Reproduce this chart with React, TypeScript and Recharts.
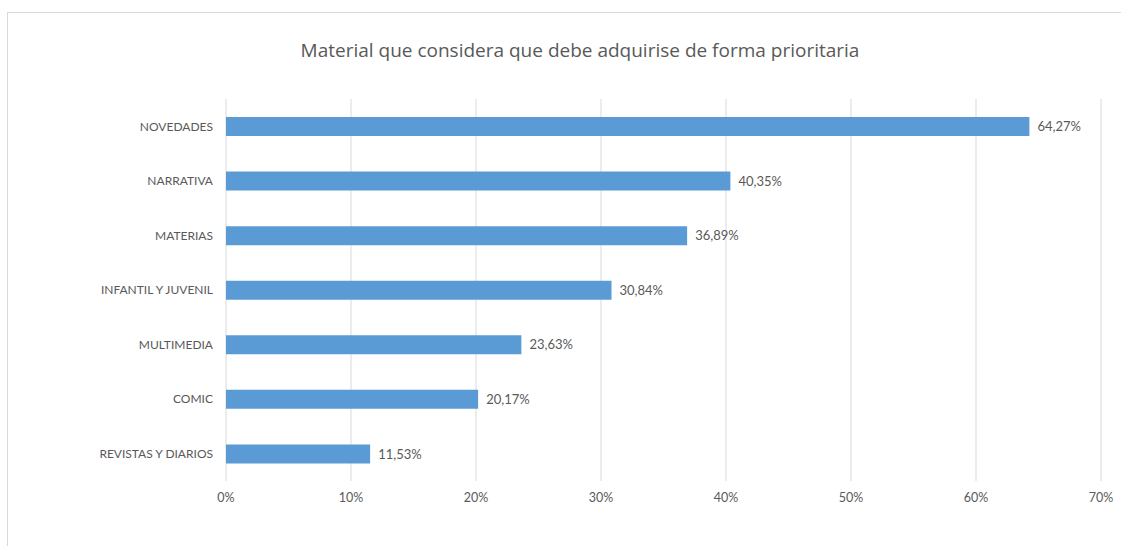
import React from "react";
import { BarChart, Bar, XAxis, YAxis, CartesianGrid, LabelList } from "recharts";

const categories = [
  "NOVEDADES",
  "NARRATIVA",
  "MATERIAS",
  "INFANTIL Y JUVENIL",
  "MULTIMEDIA",
  "COMIC",
  "REVISTAS Y DIARIOS",
];
const values = [64.27, 40.35, 36.89, 30.84, 23.63, 20.17, 11.53];
const xTicks = [0, 10, 20, 30, 40, 50, 60, 70];
const title = "Material que considera que debe adquirise de forma prioritaria";

const data = categories.map((c, i) => ({ name: c, value: values[i] }));

const FONT = "Lato, 'Open Sans', sans-serif";
const GREY = "#595959";

export default function App() {
  return (
    <div style={{ position: "absolute", left: 0, top: 0, width: 1121, height: 546, background: "#fff", overflow: "hidden", fontFamily: FONT }}>
      <div style={{ position: "absolute", left: 7, top: 12, width: 1140, height: 560, border: "1px solid #d9d9d9", boxSizing: "border-box" }} />
      <div style={{ position: "absolute", left: 0, top: 39, width: 1160, textAlign: "center", fontSize: 19, lineHeight: "22px", color: GREY, fontFamily: "'Open Sans', sans-serif", fontWeight: 400 }}>
        {title}
      </div>
      <div style={{ position: "absolute", left: 0, top: 0 }}>
        <BarChart
          width={1121}
          height={546}
          data={data}
          layout="vertical"
          margin={{ top: 99, right: 20, bottom: 35, left: 0 }}
        >
          <CartesianGrid horizontal={false} stroke="#d9d9d9" strokeWidth={1} />
          <XAxis
            type="number"
            domain={[0, 70]}
            ticks={xTicks}
            tickFormatter={(v: number) => `${v}%`}
            axisLine={false}
            tickLine={false}
            tickSize={0}
            tickMargin={12}
            height={30}
            interval={0}
            tick={{ fill: GREY, fontSize: 12.5, fontFamily: FONT }}
          />
          <YAxis
            type="category"
            dataKey="name"
            width={226}
            axisLine={false}
            tickLine={false}
            tickSize={0}
            tickMargin={13}
            interval={0}
            tick={{ fill: GREY, fontSize: 12, fontFamily: FONT }}
          />
          <Bar dataKey="value" fill="#5b9bd5" barSize={19} isAnimationActive={false}>
            <LabelList
              dataKey="value"
              position="right"
              offset={8}
              formatter={(v: any) => `${Number(v).toFixed(2).replace(".", ",")}%`}
              style={{ fill: GREY, fontSize: 13, fontFamily: FONT }}
            />
          </Bar>
        </BarChart>
      </div>
    </div>
  );
}
